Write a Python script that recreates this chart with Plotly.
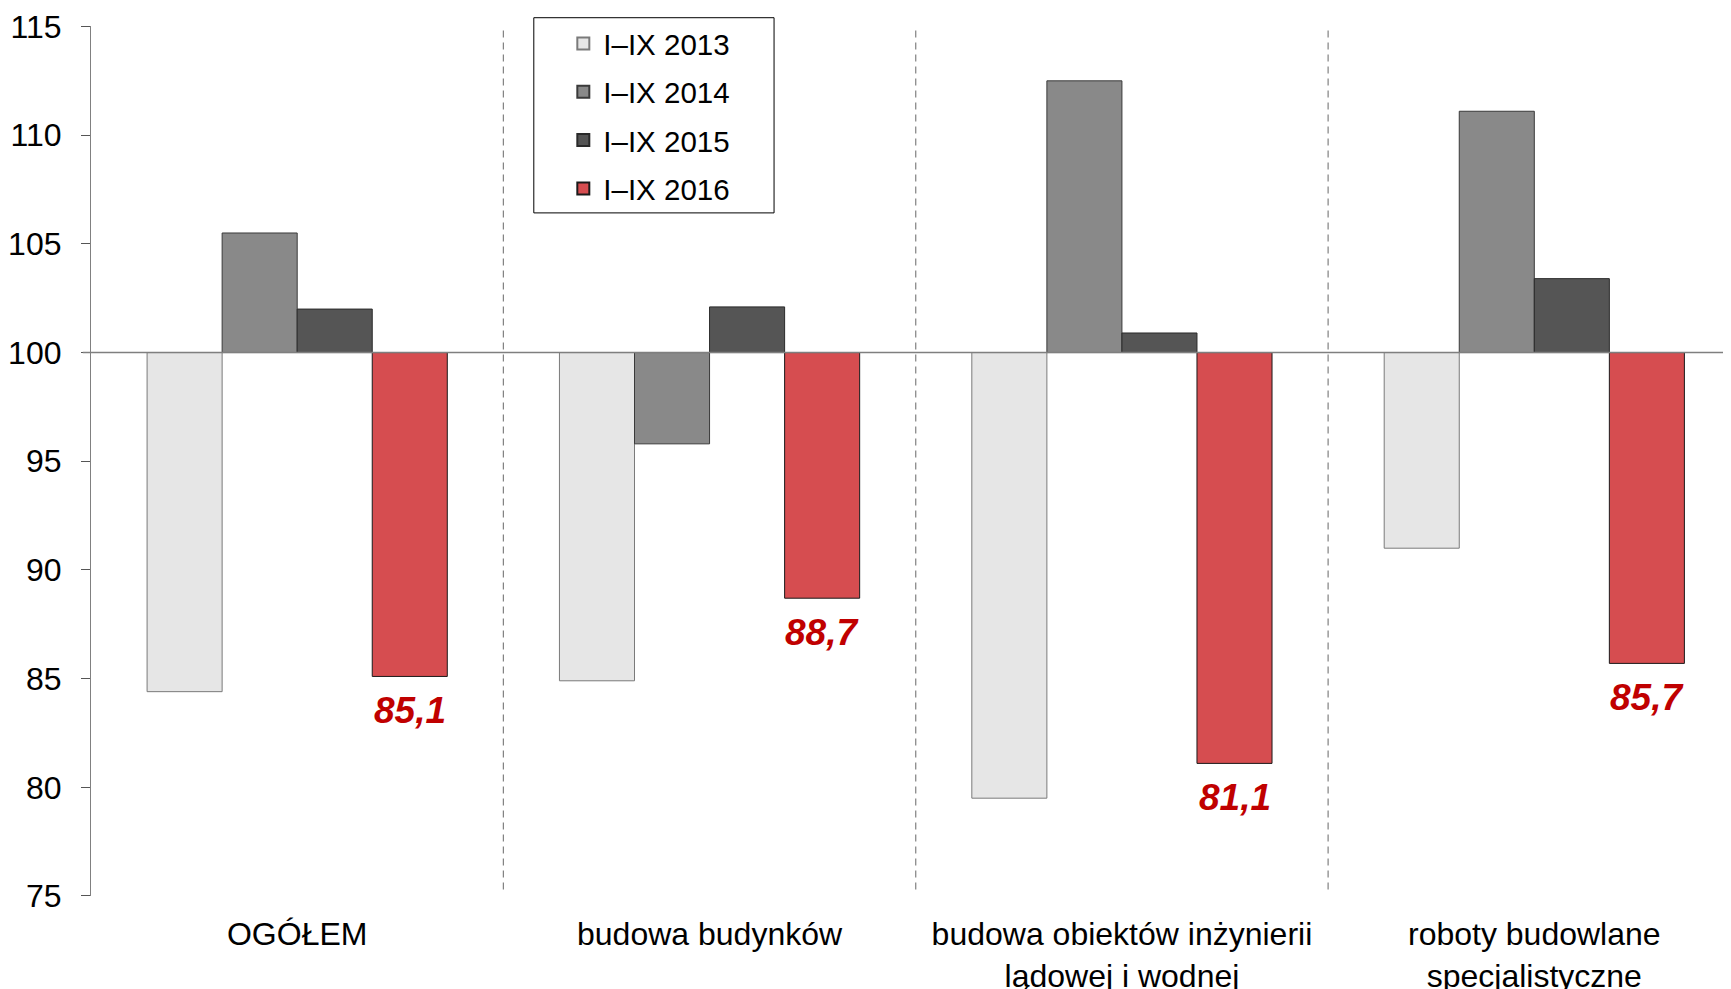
import plotly.graph_objects as go

categories = [
    "OGÓŁEM",
    "budowa budynków",
    "budowa obiektów inżynierii<br>lądowej i wodnej",
    "roboty budowlane<br>specjalistyczne",
]
series_names = ["I–IX 2013", "I–IX 2014", "I–IX 2015", "I–IX 2016"]
values_2013 = [84.4, 84.9, 79.5, 91.0]
values_2014 = [105.5, 95.8, 112.5, 111.1]
values_2015 = [102.0, 102.1, 100.9, 103.4]
values_2016 = [85.1, 88.7, 81.1, 85.7]
labels_2016 = ["85,1", "88,7", "81,1", "85,7"]

BASE = 100
BARGAP = 0.272
FONT = "Liberation Sans, Arial, sans-serif"

fill_colors = ["#e6e6e6", "#898989", "#555555", "#d64d50"]
edge_colors = ["#7a7a7a", "#3a3a3a", "#2a2a2a", "#1a1a1a"]
all_values = [values_2013, values_2014, values_2015, values_2016]

fig = go.Figure()
for k, (name, vals) in enumerate(zip(series_names, all_values)):
    fig.add_trace(
        go.Bar(
            x=categories,
            y=[v - BASE for v in vals],
            base=BASE,
            name=name,
            legendgroup=name,
            marker=dict(color=fill_colors[k], line=dict(color=edge_colors[k], width=1)),
            hovertemplate="%{x}: %{customdata}<extra>" + name + "</extra>",
            customdata=vals,
        )
    )

# value labels under the 2016 bars
n_series = len(series_names)
offset = (1 - BARGAP) * (-0.5 + (n_series - 0.5) / n_series)
annotations = [
    dict(
        x=i + offset,
        y=v,
        xref="x",
        yref="y",
        text=f"<b><i>{lab}</i></b>",
        showarrow=False,
        yanchor="top",
        yshift=-12,
        font=dict(family=FONT, size=37, color="#c00000"),
    )
    for i, (v, lab) in enumerate(zip(values_2016, labels_2016))
]

shapes = [
    dict(type="line", xref="paper", yref="y", x0=-0.005, x1=1, y0=BASE, y1=BASE,
         line=dict(color="#7f7f7f", width=1.5), layer="above"),
]
for sep in [0.5, 1.5, 2.5]:
    shapes.append(
        dict(type="line", xref="x", yref="y", x0=sep, x1=sep, y0=75.3, y1=115,
             line=dict(color="#808080", width=1.2, dash="7px,5px"), layer="below")
    )
# legend frame
shapes.append(
    dict(type="rect", xref="paper", yref="paper", x0=0.270, x1=0.4165, y0=0.771, y1=0.9913,
         line=dict(color="#000000", width=1), fillcolor="rgba(0,0,0,0)")
)

fig.update_layout(
    width=1731,
    height=989,
    margin=dict(l=83, r=8, t=2, b=101),
    paper_bgcolor="white",
    plot_bgcolor="white",
    barmode="group",
    bargap=BARGAP,
    bargroupgap=0,
    font=dict(family=FONT, size=30, color="#000000"),
    showlegend=True,
    legend=dict(
        x=0.288,
        y=0.9913,
        xanchor="left",
        yanchor="top",
        bgcolor="rgba(0,0,0,0)",
        borderwidth=0,
        tracegroupgap=7,
        font=dict(family=FONT, size=29.5, color="#000000"),
        itemsizing="constant",
    ),
    xaxis=dict(
        range=[-0.5, 3.477],
        automargin=False,
        showline=False,
        showgrid=False,
        zeroline=False,
        ticks="",
        tickfont=dict(family=FONT, size=32, color="#000000"),
        ticklabelstandoff=16,
    ),
    yaxis=dict(
        range=[75, 115],
        domain=[0, 0.9814],
        automargin=False,
        dtick=5,
        tick0=75,
        showgrid=False,
        zeroline=False,
        showline=True,
        linecolor="#808080",
        linewidth=1.2,
        ticks="outside",
        ticklen=9,
        tickcolor="#555555",
        tickfont=dict(family=FONT, size=32, color="#000000"),
        ticklabelstandoff=13,
    ),
    annotations=annotations,
    shapes=shapes,
)

fig.write_html("out.html")
